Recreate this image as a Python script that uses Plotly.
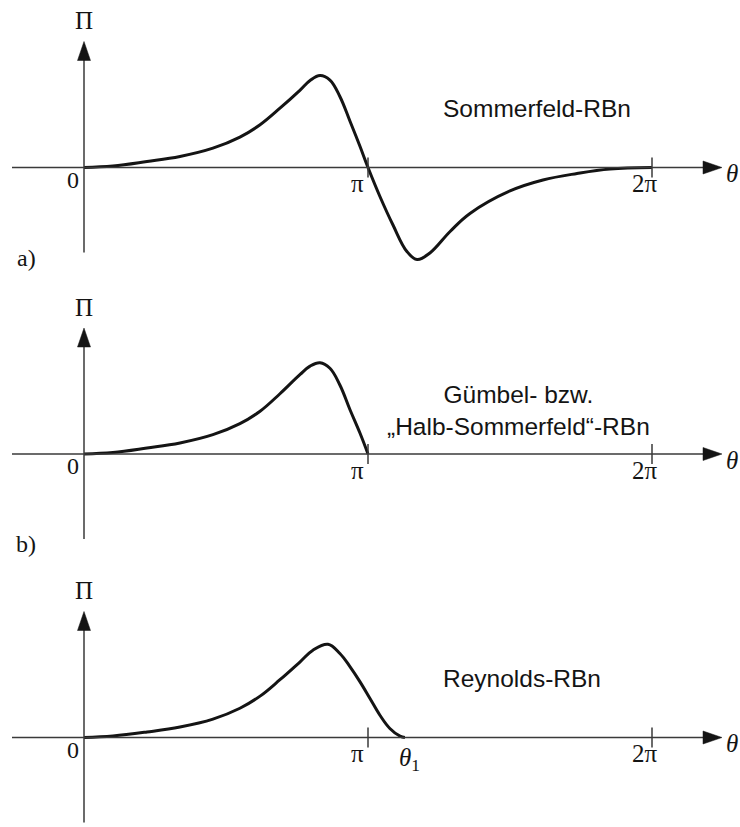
import plotly.graph_objects as go

# ---------------- data (theta in units of pi, Pi normalised to peak ~ 1) ----------------
theta_a = [0, 0.102, 0.222, 0.338, 0.454, 0.549, 0.620, 0.690, 0.761, 0.796, 0.831, 0.866,
           0.901, 0.937, 0.972, 1.0, 1.042, 1.088, 1.137, 1.173, 1.218, 1.289, 1.359,
           1.5, 1.616, 1.736, 1.852, 2.0]
pi_a = [0, 0.016, 0.065, 0.12, 0.21, 0.33, 0.465, 0.645, 0.842, 0.946, 1.0, 0.951,
        0.772, 0.5, 0.228, 0, -0.315, -0.625, -0.913, -1.0, -0.929, -0.696, -0.5,
        -0.255, -0.136, -0.065, -0.016, 0]

theta_b = [0, 0.102, 0.222, 0.338, 0.454, 0.549, 0.620, 0.690, 0.761, 0.796, 0.831, 0.866,
           0.901, 0.937, 0.972, 1.0]
pi_b = [0, 0.016, 0.065, 0.12, 0.21, 0.33, 0.465, 0.655, 0.865, 0.955, 0.992, 0.932,
        0.75, 0.478, 0.225, 0]

theta_c = [0, 0.102, 0.222, 0.338, 0.454, 0.549, 0.620, 0.690, 0.761, 0.806, 0.859, 0.901,
           0.937, 0.972, 1.007, 1.042, 1.077, 1.113, 1.130]
pi_c = [0, 0.016, 0.06, 0.114, 0.2, 0.318, 0.45, 0.628, 0.823, 0.949, 1.014, 0.913,
        0.768, 0.605, 0.424, 0.242, 0.098, 0.014, 0]

theta1 = 1.130
tick_vals = [1, 2]
tick_text = ["π", "2π"]
tick_label_shift_px = [-11, -7]
panel_letters = ["a)", "b)", "c)"]
panel_titles = ["Sommerfeld-RBn", "Gümbel- bzw.<br>„Halb-Sommerfeld“-RBn", "Reynolds-RBn"]

# ---------------- layout geometry ----------------
W, H = 740, 827
X0 = 84.0          # pixel of theta = 0
SX = 284.0         # pixels per pi
SY = 92.0          # pixels per unit of Pi
AXIS_PX = [167.5, 454.0, 737.5]   # pixel rows of the three theta-axes

def dx(px):
    return px / SX

def dy(px):
    return px / SY

xr = [-X0 / SX, (W - X0) / SX]

fig = go.Figure()

serif = "Liberation Serif"
sans = "Liberation Sans"
AXC = "#3a3a3a"
INK = "#141414"

curves = [(theta_a, pi_a), (theta_b, pi_b), (theta_c, pi_c)]
yrefs = ["y", "y2", "y3"]
ykeys = ["yaxis", "yaxis2", "yaxis3"]

shapes = []
annotations = []

for i, ((tx, ty), yref, ykey, apx) in enumerate(zip(curves, yrefs, ykeys, AXIS_PX)):
    yr = [-(H - apx) / SY, apx / SY]
    ax_def = dict(range=yr, domain=[0, 1], visible=False, fixedrange=True)
    if i > 0:
        ax_def["overlaying"] = "y"
    fig.update_layout({ykey: ax_def})

    fig.add_trace(go.Scatter(x=tx, y=ty, xaxis="x", yaxis=yref, mode="lines",
                             line=dict(color=INK, width=3, shape="spline", smoothing=1.1),
                             hoverinfo="skip", showlegend=False))

    # theta axis line + arrow
    x_start = dx(12 - X0)
    x_tip = dx(722 - X0)
    x_base = dx(703 - X0)
    shapes.append(dict(type="line", xref="x", yref=yref, x0=x_start, x1=x_base + dx(2),
                       y0=0, y1=0, line=dict(color=AXC, width=1.5)))
    shapes.append(dict(type="path", xref="x", yref=yref,
                       path=f"M{x_tip},0 L{x_base},{dy(6.5)} L{x_base},{-dy(6.5)} Z",
                       fillcolor=INK, line=dict(color=INK, width=0.5)))
    # Pi axis line + arrow
    y_tip = dy(126)
    y_base = dy(107)
    shapes.append(dict(type="line", xref="x", yref=yref, x0=0, x1=0,
                       y0=-dy(85), y1=y_base + dy(2), line=dict(color=AXC, width=1.5)))
    shapes.append(dict(type="path", xref="x", yref=yref,
                       path=f"M0,{y_tip} L{-dx(6.5)},{y_base} L{dx(6.5)},{y_base} Z",
                       fillcolor=INK, line=dict(color=INK, width=0.5)))
    # ticks at pi and 2 pi
    for tv, tt, sh in zip(tick_vals, tick_text, tick_label_shift_px):
        shapes.append(dict(type="line", xref="x", yref=yref, x0=tv, x1=tv,
                           y0=-dy(10), y1=dy(10), line=dict(color=AXC, width=1.5)))
        annotations.append(dict(x=tv + dx(sh), y=-dy(16), xref="x", yref=yref, text=tt,
                                showarrow=False, xanchor="center", yanchor="middle",
                                font=dict(family=serif, size=25, color=INK)))
    # 0 label
    annotations.append(dict(x=-dx(11.5), y=-dy(12), xref="x", yref=yref, text="0",
                            showarrow=False, xanchor="center", yanchor="middle",
                            font=dict(family=serif, size=24, color=INK)))
    # Pi label
    annotations.append(dict(x=0, y=dy(147), xref="x", yref=yref, text="Π",
                            showarrow=False, xanchor="center", yanchor="middle",
                            font=dict(family=serif, size=25, color=INK)))
    # theta label
    annotations.append(dict(x=dx(724 - X0), y=-dy(6), xref="x", yref=yref, text="<i>θ</i>",
                            showarrow=False, xanchor="left", yanchor="middle",
                            font=dict(family=serif, size=25, color=INK)))
    # panel letter
    annotations.append(dict(x=dx(26 - X0), y=-dy(90), xref="x", yref=yref,
                            text=panel_letters[i], showarrow=False,
                            xanchor="center", yanchor="middle",
                            font=dict(family=serif, size=24, color=INK)))

# titles
annotations.append(dict(x=dx(441 - X0), y=dy(59.5), xref="x", yref="y", text=panel_titles[0],
                        showarrow=False, xanchor="left", yanchor="middle",
                        font=dict(family=sans, size=24.5, color=INK)))
annotations.append(dict(x=dx(518 - X0), y=dy(43.5), xref="x", yref="y2", text=panel_titles[1],
                        showarrow=False, xanchor="center", yanchor="middle", align="center",
                        font=dict(family=sans, size=24.5, color=INK)))
annotations.append(dict(x=dx(441 - X0), y=dy(59.5), xref="x", yref="y3", text=panel_titles[2],
                        showarrow=False, xanchor="left", yanchor="middle",
                        font=dict(family=sans, size=24.5, color=INK)))
# theta_1 label
annotations.append(dict(x=theta1 + dx(5), y=-dy(22), xref="x", yref="y3",
                        text="<i>θ</i><sub>1</sub>", showarrow=False,
                        xanchor="center", yanchor="middle",
                        font=dict(family=serif, size=25, color=INK)))

fig.update_layout(
    width=W, height=H, autosize=False,
    margin=dict(l=0, r=0, t=0, b=0),
    paper_bgcolor="white", plot_bgcolor="white",
    xaxis=dict(range=xr, domain=[0, 1], visible=False, fixedrange=True),
    shapes=shapes, annotations=annotations,
    showlegend=False,
)

fig.write_html("out.html")
